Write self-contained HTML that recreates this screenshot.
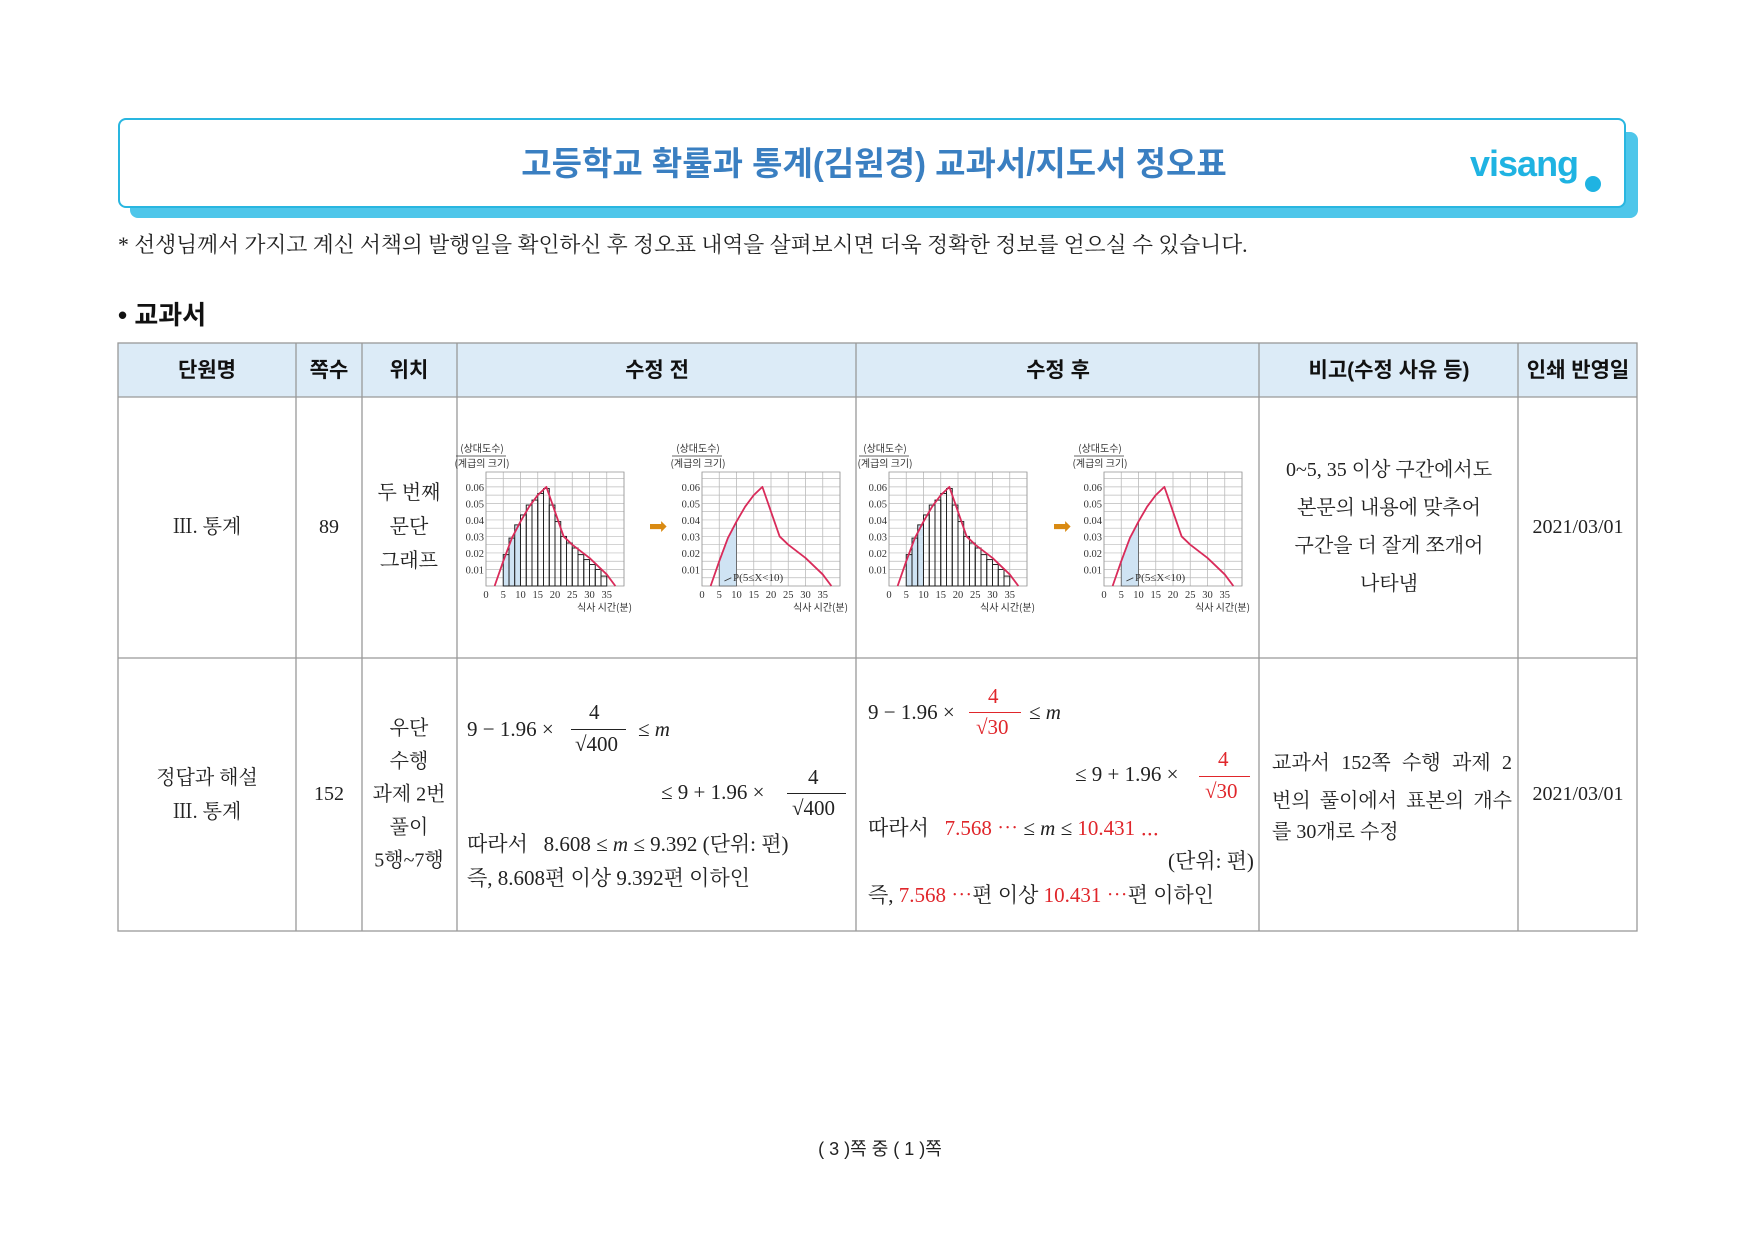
<!DOCTYPE html>
<html><head><meta charset="utf-8">
<style>
body{margin:0;background:#fff;}
#page{position:relative;width:1754px;height:1240px;overflow:hidden;background:#fff;font-family:"Liberation Serif","Noto Serif CJK SC",serif;color:#222;}
.a{position:absolute;white-space:nowrap;}
.c{transform:translate(-50%,-50%);text-align:center;}
.h{font-family:"Liberation Sans","Noto Sans CJK KR",sans-serif;font-weight:bold;font-size:21px;color:#111;}
.t{font-size:20px;line-height:1;}
.m{font-size:21px;font-family:"Liberation Serif","Noto Serif CJK SC",serif;}
.red{color:#e0262b;}
.fb{position:absolute;height:0;border-top:1.3px solid #222;}
</style></head><body>
<div id="page">
<div class="a" style="left:130px;top:132px;width:1508px;height:86px;background:#4ec6ea;border-radius:8px;"></div>
<div class="a" style="left:118px;top:118px;width:1504px;height:86px;background:#fff;border:2.5px solid #29b6e0;border-radius:8px;"></div>
<div class="a c" style="left:874px;top:161px;font-family:'Liberation Sans','Noto Sans CJK KR',sans-serif;font-weight:bold;font-size:33px;color:#3a7fc1;">고등학교 확률과 통계(김원경) 교과서/지도서 정오표</div>
<div class="a" style="left:1470px;top:143px;font-family:'Liberation Sans',sans-serif;font-weight:bold;font-size:36px;color:#1fb3e2;letter-spacing:-1px;">visang</div>
<div class="a" style="left:1585px;top:176px;width:16px;height:16px;border-radius:50%;background:#1fb3e2;"></div>
<div class="a" style="left:118px;top:228px;font-size:21.7px;">* 선생님께서 가지고 계신 서책의 발행일을 확인하신 후 정오표 내역을 살펴보시면 더욱 정확한 정보를 얻으실 수 있습니다.</div>
<div class="a" style="left:118px;top:295px;font-family:'Liberation Sans','Noto Sans CJK KR',sans-serif;font-weight:bold;font-size:26px;color:#111;">• 교과서</div>

<svg class="a" style="left:0;top:0" width="1754" height="1240">
<rect x="118" y="343" width="1519" height="54" fill="#dcebf7"/>
<g stroke="#999" stroke-width="1.3" fill="none">
<rect x="118" y="343" width="1519" height="588"/>
<line x1="118" y1="397" x2="1637" y2="397"/><line x1="118" y1="658" x2="1637" y2="658"/>
<line x1="296" y1="343" x2="296" y2="931"/><line x1="362" y1="343" x2="362" y2="931"/>
<line x1="457" y1="343" x2="457" y2="931"/><line x1="856" y1="343" x2="856" y2="931"/>
<line x1="1259" y1="343" x2="1259" y2="931"/><line x1="1518" y1="343" x2="1518" y2="931"/>
</g>
<g id="charts"></g>
</svg>

<div class="a c h" style="left:207px;top:369px;">단원명</div>
<div class="a c h" style="left:329px;top:369px;">쪽수</div>
<div class="a c h" style="left:409px;top:369px;">위치</div>
<div class="a c h" style="left:657px;top:369px;">수정 전</div>
<div class="a c h" style="left:1058px;top:369px;">수정 후</div>
<div class="a c h" style="left:1389px;top:369px;">비고(수정 사유 등)</div>
<div class="a c h" style="left:1578px;top:369px;">인쇄 반영일</div>

<div class="a c t" style="left:207px;top:527px;">Ⅲ. 통계</div>
<div class="a c t" style="left:329px;top:527px;">89</div>
<div class="a c t" style="left:409px;top:527px;line-height:34px;">두 번째<br>문단<br>그래프</div>
<div class="a c t" style="left:1389px;top:527px;line-height:38px;">0~5, 35 이상 구간에서도<br>본문의 내용에 맞추어<br>구간을 더 잘게 쪼개어<br>나타냄</div>
<div class="a c t" style="left:1578px;top:527px;">2021/03/01</div>
<div class="a c" style="left:658px;top:527px;color:#d98a12;font-size:22px;font-family:'DejaVu Sans',sans-serif;">➡</div>
<div class="a c" style="left:1062px;top:527px;color:#d98a12;font-size:22px;font-family:'DejaVu Sans',sans-serif;">➡</div>

<div class="a c t" style="left:207px;top:795px;line-height:34px;">정답과 해설<br>Ⅲ. 통계</div>
<div class="a c t" style="left:329px;top:794px;">152</div>
<div class="a c t" style="left:409px;top:795px;line-height:33px;">우단<br>수행<br>과제 2번<br>풀이<br>5행~7행</div>
<div class="a t" style="left:1272px;top:744px;line-height:38px;width:240px;white-space:normal;text-align:justify;text-align-last:justify;">교과서 152쪽 수행 과제 2<br><span>번의 풀이에서 표본의 개수</span></div>
<div class="a t" style="left:1272px;top:822px;">를 30개로 수정</div>
<div class="a c t" style="left:1578px;top:794px;">2021/03/01</div>

<div class="a m" style="left:467px;top:717px;">9 − 1.96 ×</div>
<div class="a m" style="left:589px;top:700px;">4</div>
<div class="fb" style="left:571px;top:729px;width:55px;"></div>
<div class="a m" style="left:575px;top:732px;">√400</div>
<div class="a m" style="left:638px;top:717px;">≤ <i>m</i></div>
<div class="a m" style="left:661px;top:780px;">≤ 9 + 1.96 ×</div>
<div class="a m" style="left:808px;top:765px;">4</div>
<div class="fb" style="left:787px;top:793px;width:59px;"></div>
<div class="a m" style="left:792px;top:796px;">√400</div>
<div class="a m" style="left:467px;top:828px;">따라서 &nbsp;&nbsp;8.608 ≤ <i>m</i> ≤ 9.392 (단위: 편)</div>
<div class="a m" style="left:467px;top:862px;">즉, 8.608편 이상 9.392편 이하인</div>

<div class="a m" style="left:868px;top:700px;">9 − 1.96 ×</div>
<div class="a m red" style="left:988px;top:684px;">4</div>
<div class="fb" style="left:969px;top:712px;width:52px;border-color:#e0262b;"></div>
<div class="a m red" style="left:976px;top:715px;">√30</div>
<div class="a m" style="left:1029px;top:700px;">≤ <i>m</i></div>
<div class="a m" style="left:1075px;top:762px;">≤ 9 + 1.96 ×</div>
<div class="a m red" style="left:1218px;top:747px;">4</div>
<div class="fb" style="left:1199px;top:776px;width:51px;border-color:#e0262b;"></div>
<div class="a m red" style="left:1205px;top:779px;">√30</div>
<div class="a m" style="left:868px;top:812px;">따라서 &nbsp;&nbsp;<span class="red">7.568 ⋯</span> ≤ <i>m</i> ≤ <span class="red">10.431 ⋯</span></div>
<div class="a m" style="left:1168px;top:845px;">(단위: 편)</div>
<div class="a m" style="left:868px;top:879px;">즉, <span class="red">7.568 ⋯</span>편 이상 <span class="red">10.431 ⋯</span>편 이하인</div>

<div class="a c" style="left:880px;top:1148px;font-family:'Liberation Sans','Noto Sans CJK KR',sans-serif;font-size:18px;">( 3 )쪽 중 ( 1 )쪽</div>
</div>
<script>
const barStarts = [5,6.67,8.33,10,11.67,13.33,15,16.67,18.33,20,21.67,23.33,25,26.67,28.33,30,31.67,33.33];
const barValues = [0.019,0.029,0.037,0.043,0.049,0.052,0.056,0.059,0.049,0.039,0.030,0.026,0.023,0.019,0.016,0.013,0.010,0.006];
const curveX = [2.5,5,7.5,10,12.5,15,17.5,20,22.5,25,27.5,30,32.5,35,37.5];
const curveY = [0,0.015,0.029,0.039,0.048,0.055,0.06,0.045,0.030,0.025,0.021,0.017,0.012,0.007,0];
const xTicks = [0,5,10,15,20,25,30,35];
const yTicks = [0.01,0.02,0.03,0.04,0.05,0.06];
const NS='http://www.w3.org/2000/svg';
const root=document.getElementById('charts');
function mk(tag,attrs,parent){const e=document.createElementNS(NS,tag);for(const k in attrs)e.setAttribute(k,attrs[k]);parent.appendChild(e);return e;}
function chart(ox,oy,hist,name){
  const W=138,H=114,xMax=40,yMax=0.069;
  const sx=v=>ox+v/xMax*W, sy=v=>oy+H-v/yMax*H;
  const g=mk('g',{},root);
  
  
  for(let v=0;v<=xMax;v+=5)mk('line',{x1:sx(v),x2:sx(v),y1:oy,y2:oy+H,stroke:'#bbb','stroke-width':0.8},g);
  for(let v=0.005;v<yMax;v+=0.005)mk('line',{x1:ox,x2:ox+W,y1:sy(v),y2:sy(v),stroke:'#bbb','stroke-width':0.7},g);
  mk('rect',{x:ox,y:oy,width:W,height:H,fill:'none',stroke:'#999','stroke-width':0.8},g);
  const cp=curveX.map((x,i)=>sx(x)+','+sy(curveY[i])).join(' ');
  if(hist){
    barStarts.forEach((b,i)=>{
      const r=mk('rect',{x:sx(b),y:sy(barValues[i]),width:sx(b+5/3)-sx(b),height:sy(0)-sy(barValues[i]),fill:b<9.9?'#cfe3f3':'none',stroke:'#222','stroke-width':1},g);
      
      
    });
  } else {
    const pts=[];curveX.forEach((x,i)=>{if(x>=5&&x<=10)pts.push(sx(x)+','+sy(curveY[i]));});
    const a=mk('polygon',{points:sx(10)+','+sy(0)+' '+sx(5)+','+sy(0)+' '+pts.join(' '),fill:'#cfe3f3',stroke:'#555','stroke-width':0.8},g);
    
    
    mk('line',{x1:sx(6.5),y1:sy(0.003),x2:sx(8.5),y2:sy(0.005),stroke:'#333','stroke-width':0.8},g);
    const pt=mk('text',{x:sx(9),y:sy(0.003),'font-size':11,'font-family':'Liberation Serif',fill:'#333'},g);
    pt.textContent='P(5≤X<10)';
    
    
  }
  const c=mk('polyline',{points:cp,fill:'none',stroke:'#d92b5a','stroke-width':1.8,'stroke-linejoin':'round'},g);
  
  
  xTicks.forEach(v=>{const t=mk('text',{x:sx(v),y:oy+H+12,'font-size':10.5,'text-anchor':'middle','font-family':'Liberation Serif',fill:'#333'},g);t.textContent=v;
    
    });
  yTicks.forEach(v=>{const t=mk('text',{x:ox-2,y:sy(v)+4,'font-size':10.5,'text-anchor':'end','font-family':'Liberation Serif',fill:'#333'},g);t.textContent=v.toFixed(2);
    
    });
  const y1=mk('text',{x:ox-4,y:oy-20,'font-size':10,'text-anchor':'middle','font-family':'Noto Sans CJK KR',fill:'#333'},g);y1.textContent='(상대도수)';
  
  
  mk('line',{x1:ox-30,x2:ox+20,y1:oy-16,y2:oy-16,stroke:'#333','stroke-width':0.8},g);
  const y2=mk('text',{x:ox-4,y:oy-5,'font-size':10,'text-anchor':'middle','font-family':'Noto Sans CJK KR',fill:'#333'},g);y2.textContent='(계급의 크기)';
  
  
  const xt=mk('text',{x:ox+W+8,y:oy+H+25,'font-size':10,'text-anchor':'end','font-family':'Noto Sans CJK KR',fill:'#333'},g);xt.textContent='식사 시간(분)';
  
  
}
chart(486,472,true,'before-histogram-chart');
chart(702,472,false,'before-curve-chart');
chart(889,472,true,'after-histogram-chart');
chart(1104,472,false,'after-curve-chart');
</script>
</body></html>
